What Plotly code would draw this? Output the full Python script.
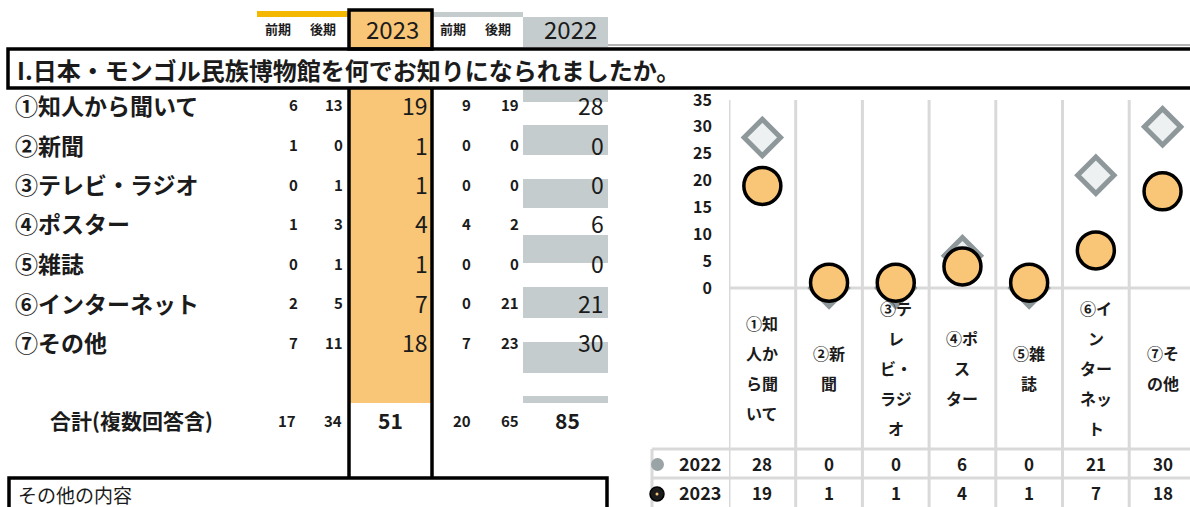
import plotly.graph_objects as go

W, H = 1190, 507

# ---------------- data ----------------
categories = ["①知人から聞いて", "②新聞", "③テレビ・ラジオ", "④ポスター", "⑤雑誌", "⑥インターネット", "⑦その他"]
chart_labels = [["①知", "人か", "ら聞", "いて"], ["②新", "聞"], ["③テ", "レ", "ビ・", "ラジ", "オ"],
                ["④ポ", "ス", "ター"], ["⑤雑", "誌"], ["⑥イ", "ン", "ター", "ネッ", "ト"], ["⑦そ", "の他"]]
first_2023 = [6, 1, 0, 1, 0, 2, 7]
second_2023 = [13, 0, 1, 3, 1, 5, 11]
total_2023 = [19, 1, 1, 4, 1, 7, 18]
first_2022 = [9, 0, 0, 4, 0, 0, 7]
second_2022 = [19, 0, 0, 2, 0, 21, 23]
total_2022 = [28, 0, 0, 6, 0, 21, 30]
y_ticks = [0, 5, 10, 15, 20, 25, 30, 35]
title_text = "I.日本・モンゴル民族博物館を何でお知りになられましたか。"
total_label = "合計(複数回答含)"
period_labels = ["前期", "後期"]
year_labels = ["2023", "2022"]
other_label = "その他の内容"

# ---------------- style ----------------
FONT = "Noto Sans CJK JP"
INK = "#1b1b1b"
ORANGE = "#f9c677"
GRAY = "#c4ccce"
GRID = "#d9d9d9"
GOLD = "#f5b800"
COL_W = 66.7


def px(x):
    return x / W


def py(y):
    return 1 - y / H


def ann(text, x, y, size, xanchor="center", xref="paper", weight=700, color=INK):
    return dict(text=str(text), x=x, y=y, xref=xref, yref="paper", xanchor=xanchor, yanchor="middle",
                showarrow=False, font=dict(family=FONT, size=size, color=color, weight=weight))


def rect(x0, y0, x1, y1, fill=None, line_color=None, lw=0, layer="below"):
    d = dict(type="rect", xref="paper", yref="paper", x0=px(x0), x1=px(x1), y0=py(y0), y1=py(y1), layer=layer,
             line=dict(width=lw, color=line_color or "rgba(0,0,0,0)"))
    d["fillcolor"] = fill if fill else "rgba(0,0,0,0)"
    return d


def hline(x0, x1, y, color, w, xref="paper", layer="below"):
    return dict(type="line", xref=xref, yref="paper", x0=x0 if xref != "paper" else px(x0),
                x1=x1 if xref != "paper" else px(x1), y0=py(y), y1=py(y), layer=layer, line=dict(color=color, width=w))


def vline(x, y0, y1, color, w, xref="paper", layer="below"):
    return dict(type="line", xref=xref, yref="paper", x0=x if xref != "paper" else px(x),
                x1=x if xref != "paper" else px(x), y0=py(y0), y1=py(y1), layer=layer, line=dict(color=color, width=w))


fig = go.Figure()
fig.add_trace(go.Scatter(x=categories, y=total_2022, mode="markers", name=year_labels[1], cliponaxis=False,
                         marker=dict(symbol="diamond", size=28, color="#eef1f1",
                                     line=dict(color="#8e989b", width=5))))
fig.add_trace(go.Scatter(x=categories, y=total_2023, mode="markers", name=year_labels[0], cliponaxis=False,
                         marker=dict(symbol="circle", size=37, color=ORANGE, line=dict(color="black", width=3.5))))

x_right = -0.5 + (W - 729) / COL_W
fig.update_layout(
    template="none",
    width=W, height=H, margin=dict(l=0, r=0, t=0, b=0, pad=0, autoexpand=False),
    paper_bgcolor="white", plot_bgcolor="rgba(0,0,0,0)",
    showlegend=False,
    xaxis=dict(domain=[px(729), 1], type="category", range=[-0.5, x_right], showticklabels=False,
               showgrid=False, zeroline=False, showline=False, fixedrange=True, automargin=False, ticks=""),
    yaxis=dict(domain=[py(288), py(100)], range=[0, 35], tickvals=y_ticks, showgrid=False, zeroline=False,
               showline=False, ticks="", ticklabelstandoff=16, automargin=False, fixedrange=True,
               tickfont=dict(family=FONT, size=16, color=INK, weight=700)),
)

shapes = []
annotations = []

# ---- left table decorations ----
shapes.append(rect(257, 11, 349, 17, fill=GOLD))
shapes.append(rect(433, 12, 523, 17, fill=GRAY))
shapes.append(rect(523, 17, 608, 47, fill=GRAY))
shapes.append(rect(349, 10, 432, 403, fill=ORANGE))
for y0, y1 in [(90, 102), (125, 155), (179, 208), (235, 263), (287, 318), (342, 373), (396, 403)]:
    shapes.append(rect(523, y0, 608, y1, fill=GRAY))
# title box
shapes.append(hline(608, W, 45, "#9a9a9a", 1.5))
shapes.append(rect(8, 49, W + 10, 88, fill="white", line_color="black", lw=3.5))
# 2023 box
shapes.append(rect(349, 10, 432, 49, line_color="black", lw=3.5))
shapes.append(vline(349, 88, 478, "black", 3.5))
shapes.append(vline(432, 88, 478, "black", 3.5))
# other box
shapes.append(rect(9, 478, 607, H + 10, line_color="black", lw=3.5))

# ---- chart grid & table ----
for i in range(len(categories) + 1):
    shapes.append(vline(i - 0.5, 100, H, GRID, 3, xref="x"))
shapes.append(hline(-0.5, x_right, 288, GRID, 3, xref="x"))
shapes.append(hline(652, W, 449, GRID, 3))
shapes.append(hline(652, W, 478, GRID, 3))
shapes.append(vline(652, 449, H, GRID, 3))
# legend keys inside the data table
shapes.append(dict(type="circle", xref="paper", yref="paper", x0=px(651), x1=px(664), y0=py(458), y1=py(471),
                   fillcolor="#9aa3a6", line=dict(width=0), layer="above"))
shapes.append(dict(type="circle", xref="paper", yref="paper", x0=px(650), x1=px(664), y0=py(487), y1=py(501),
                   fillcolor="#1b1b1b", line=dict(width=1.5, color="black"), layer="above"))
shapes.append(dict(type="circle", xref="paper", yref="paper", x0=px(655.5), x1=px(658.5), y0=py(492.5),
                   y1=py(495.5), fillcolor=ORANGE, line=dict(width=0), layer="above"))

# ---- header texts ----
annotations.append(ann(period_labels[0], px(278), py(29), 13))
annotations.append(ann(period_labels[1], px(323), py(29), 13))
annotations.append(ann(year_labels[0], px(392), py(29), 24, weight=400))
annotations.append(ann(period_labels[0], px(453), py(29), 13))
annotations.append(ann(period_labels[1], px(498), py(29), 13))
annotations.append(ann(year_labels[1], px(570), py(29), 24, weight=400))
annotations.append(ann(title_text, px(15), py(69), 24, xanchor="left"))

# ---- left table rows ----
for i, cat in enumerate(categories):
    ry = py(105 + 39.5 * i)
    annotations.append(ann(cat, px(13), ry, 23, xanchor="left"))
    annotations.append(ann(first_2023[i], px(293), ry, 15))
    annotations.append(ann(second_2023[i], px(345), ry, 15, xanchor="right"))
    annotations.append(ann(total_2023[i], px(430), ry, 23, xanchor="right", weight=400))
    annotations.append(ann(first_2022[i], px(466), ry, 15))
    annotations.append(ann(second_2022[i], px(521), ry, 15, xanchor="right"))
    annotations.append(ann(total_2022[i], px(606), ry, 23, xanchor="right", weight=400))

ty = py(420)
annotations.append(ann(total_label, px(48), ty, 21, xanchor="left"))
annotations.append(ann(sum(first_2023), px(287), ty, 15))
annotations.append(ann(sum(second_2023), px(333), ty, 15))
annotations.append(ann(sum(total_2023), px(390), ty, 21))
annotations.append(ann(sum(first_2022), px(462), ty, 15))
annotations.append(ann(sum(second_2022), px(510), ty, 15))
annotations.append(ann(sum(total_2022), px(567), ty, 21))
annotations.append(ann(other_label, px(16), py(494), 19, xanchor="left", weight=400))

# ---- chart category labels & data table ----
for i, lines in enumerate(chart_labels):
    n = len(lines)
    for j, t in enumerate(lines):
        yy = 368 + (j - (n - 1) / 2) * 30
        annotations.append(ann(t, categories[i], py(yy), 16, xref="x"))
    annotations.append(ann(total_2022[i], categories[i], py(463), 17, xref="x"))
    annotations.append(ann(total_2023[i], categories[i], py(492), 17, xref="x"))
annotations.append(ann(year_labels[1], px(723), py(463), 18, xanchor="right"))
annotations.append(ann(year_labels[0], px(723), py(492), 18, xanchor="right"))

fig.update_layout(shapes=shapes, annotations=annotations)
fig.write_html("out.html", config={"displayModeBar": False, "staticPlot": True},
               post_script="document.body.style.margin='0';")
